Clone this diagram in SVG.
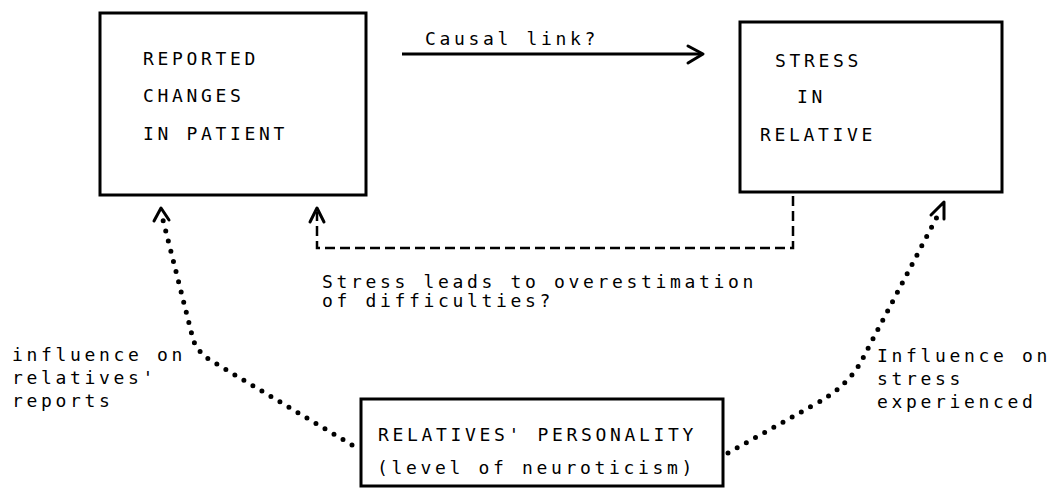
<svg xmlns="http://www.w3.org/2000/svg" width="1052" height="489" viewBox="0 0 1052 489">
<style>
.box{fill:none;stroke:#000;stroke-width:3}
.t{font-family:"DejaVu Sans Mono","Liberation Mono",monospace;font-size:18px;letter-spacing:3.66px;fill:#000}
.solid{fill:none;stroke:#000;stroke-width:3}
.dash{fill:none;stroke:#000;stroke-width:2.5;stroke-dasharray:10 5}
.dot{fill:none;stroke:#000;stroke-width:5;stroke-dasharray:0 10.5;stroke-linecap:round}
.head{fill:none;stroke:#000;stroke-width:3;stroke-linecap:round;stroke-linejoin:round}
</style>
<rect width="1052" height="489" fill="#fff"/>
<g id="node-reported-changes">
<rect class="box" x="100" y="13" width="266" height="182"/>
<text class="t" x="143" y="65">REPORTED</text>
<text class="t" x="143" y="102">CHANGES</text>
<text class="t" x="143" y="140">IN PATIENT</text>
</g>
<g id="node-stress-relative">
<rect class="box" x="740" y="22" width="262" height="170"/>
<text class="t" x="775" y="67">STRESS</text>
<text class="t" x="797" y="103">IN</text>
<text class="t" x="760" y="141">RELATIVE</text>
</g>
<g id="node-personality">
<rect class="box" x="361" y="399" width="362" height="87"/>
<text class="t" x="378" y="441">RELATIVES' PERSONALITY</text>
<text class="t" x="377" y="474">(level of neuroticism)</text>
</g>
<g id="connectors">
<path class="solid" d="M402 54 L702 54"/>
<path class="head" d="M688 46 L703 54 L688 63"/>
<path class="dash" d="M793 196 L793 248 L317 248 L317 212"/>
<path class="head" d="M310 222 L317 208 L324 222"/>
<path class="dot" d="M352 445 L215 363 Q195 352 192 335 L163 220"/>
<path class="head" d="M154 221 L161 208 L169 220"/>
<path class="dot" d="M728 453 L812 406 Q850 386 864 356 L938 215"/>
<path class="head" d="M931 215 L944 202 L944 219"/>
</g>
<g id="labels">
<text class="t" x="425" y="45">Causal link?</text>
<text class="t" x="322" y="288">Stress leads to overestimation</text>
<text class="t" x="322" y="307">of difficulties?</text>
<text class="t" x="12" y="361">influence on</text>
<text class="t" x="12" y="384">relatives'</text>
<text class="t" x="12" y="407">reports</text>
<text class="t" x="877" y="362">Influence on</text>
<text class="t" x="877" y="385">stress</text>
<text class="t" x="877" y="408">experienced</text>
</g>
</svg>
